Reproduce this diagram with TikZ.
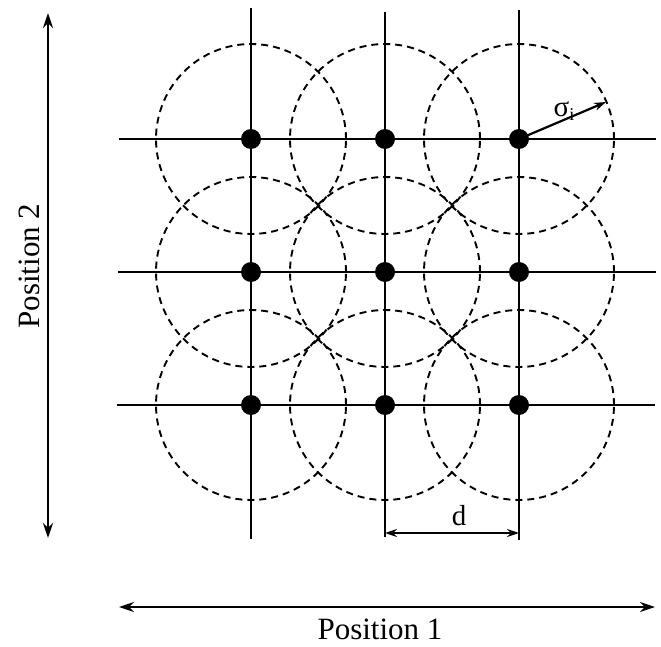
\documentclass[tikz,border=0pt]{standalone}
\usepackage{fontspec}
\setmainfont{Liberation Serif}
\usetikzlibrary{arrows.meta}
\begin{document}
\begin{tikzpicture}[x=1pt,y=-1pt,
  gridline/.style={line width=2.6pt},
  ring/.style={line width=1.9pt, dash pattern=on 7pt off 5pt},
  dot/.style={circle, fill=black, inner sep=0pt, minimum size=20pt},
  axisarrow/.style={line width=2.3pt, {Stealth[length=15pt,width=10pt]}-{Stealth[length=15pt,width=10pt]}},
  dimarrow/.style={line width=2.2pt, {Stealth[length=12pt,width=8pt]}-{Stealth[length=12pt,width=8pt]}},
  radarrow/.style={line width=2.2pt, -{Stealth[length=12pt,width=8pt]}},
  axislabel/.style={font=\fontsize{31}{35}\selectfont, inner sep=0pt},
  smalllabel/.style={font=\fontsize{29}{32}\selectfont, inner sep=0pt}
]
\useasboundingbox (0,0) rectangle (661,647);

% grid line ends
\coordinate (v1t) at (251,8);   \coordinate (v1b) at (251,539);
\coordinate (v2t) at (385,12);  \coordinate (v2b) at (385,537);
\coordinate (v3t) at (519,10);  \coordinate (v3b) at (519,540);
\coordinate (h1l) at (119,139); \coordinate (h1r) at (656,139);
\coordinate (h2l) at (118,272); \coordinate (h2r) at (656,272);
\coordinate (h3l) at (117,405); \coordinate (h3r) at (655,405);

\draw[gridline] (v1t) -- (v1b);
\draw[gridline] (v2t) -- (v2b);
\draw[gridline] (v3t) -- (v3b);
\draw[gridline] (h1l) -- (h1r);
\draw[gridline] (h2l) -- (h2r);
\draw[gridline] (h3l) -- (h3r);

% lattice points
\foreach \i/\y in {1/139,2/272,3/405}{
  \foreach \j/\x in {1/251,2/385,3/519}{
    \coordinate (c\i\j) at (\x,\y);
    \draw[ring] (c\i\j) circle[radius=95pt];
  }
}
\foreach \i in {1,2,3}{
  \foreach \j in {1,2,3}{
    \node[dot] (p\i\j) at (c\i\j) {};
  }
}

% sigma arrow
\coordinate (sigend) at (606,102);
\draw[radarrow] (p13.center) -- (sigend);
\node[smalllabel] (sig) at (564,111) {σ\raisebox{-0.35ex}{\fontsize{18}{20}\selectfont i}};

% d dimension
\coordinate (dL) at (385,533);
\coordinate (dR) at (519,533);
\draw[dimarrow] (dL) -- (dR);
\node[smalllabel] (dlab) at (459,516) {d};

% axes
\coordinate (a2t) at (48,13);
\coordinate (a2b) at (48,538);
\draw[axisarrow] (a2t) -- (a2b);
\node[axislabel, rotate=90] (pos2) at (29,266) {Position 2};

\coordinate (a1l) at (119,607);
\coordinate (a1r) at (655,607);
\draw[axisarrow] (a1l) -- (a1r);
\node[axislabel] (pos1) at (380,629) {Position 1};
\end{tikzpicture}
\end{document}
